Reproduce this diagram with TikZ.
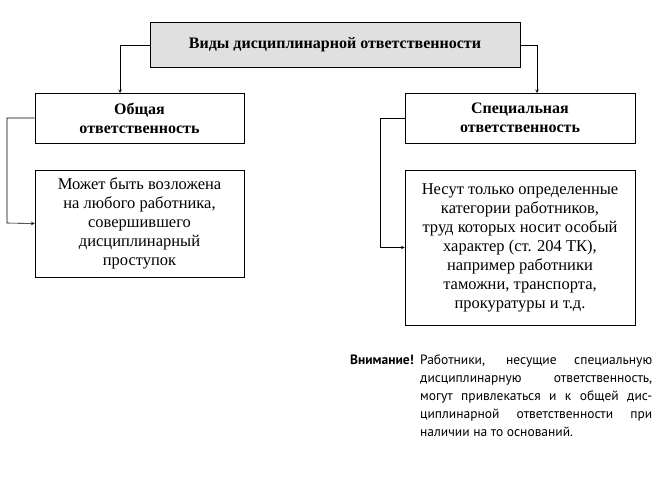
\documentclass[tikz,border=0pt]{standalone}
\usepackage{fontspec}
\setmainfont{Liberation Serif}
\newfontfamily\notefont{PT Sans}
\newcommand{\jl}[1]{\makebox[232pt][s]{#1}}
\begin{document}
\begin{tikzpicture}[x=1pt,y=-1pt,
  box/.style={draw,line width=0.8pt,align=center,font=\fontsize{16.5}{19}\selectfont,inner sep=0pt},
  arr/.style={-stealth,line width=0.6pt}]
\useasboundingbox (0,0) rectangle (663,481);
\node[box,fill=black!12,minimum width=370,minimum height=45,font=\bfseries\fontsize{16}{19}\selectfont] (top) at (335,45) {Виды дисциплинарной ответственности};
\node[box,minimum width=209,minimum height=50,font=\bfseries\fontsize{16}{19}\selectfont] (gen) at (139.5,118) {Общая\\ответственность};
\node[box,minimum width=230,minimum height=50,font=\bfseries\fontsize{16}{19}\selectfont] (spec) at (520,118) {Специальная\\ответственность};
\node[box,minimum width=209,minimum height=107] (gent) at (139.5,223.5) {Может быть возложена\\на любого работника,\\совершившего\\дисциплинарный\\проступок};
\node[box,minimum width=230,minimum height=155] (spect) at (520,247.5) {Несут только определенные\\категории работников,\\труд которых носит особый\\характер (ст. 204 ТК),\\например работники\\таможни, транспорта,\\прокуратуры и т.д.};
\draw[arr] (top.west) -- (120,45) -- (120,93);
\draw[arr] (top.east) -- (537,45) -- (537,93);
\draw[arr] (gen.west) -- (7,118) -- (7,223) -- (gent.west);
\draw[arr] (spec.west) -- (380,118) -- (380,247.5) -- (spect.west);
\node[anchor=north east,inner sep=0pt,font=\notefont\bfseries\fontsize{13.5}{18}\selectfont] (w) at (414,355) {Внимание!};
\node[anchor=north west,inner sep=0pt,align=left,font=\notefont\fontsize{13.5}{18}\selectfont] (nt) at (420,355) {\jl{Работники, несущие специальную}\\\jl{дисциплинарную ответственность,}\\\jl{могут привлекаться и к общей дис-}\\\jl{циплинарной ответственности при}\\наличии на то оснований.};
\end{tikzpicture}
\end{document}
